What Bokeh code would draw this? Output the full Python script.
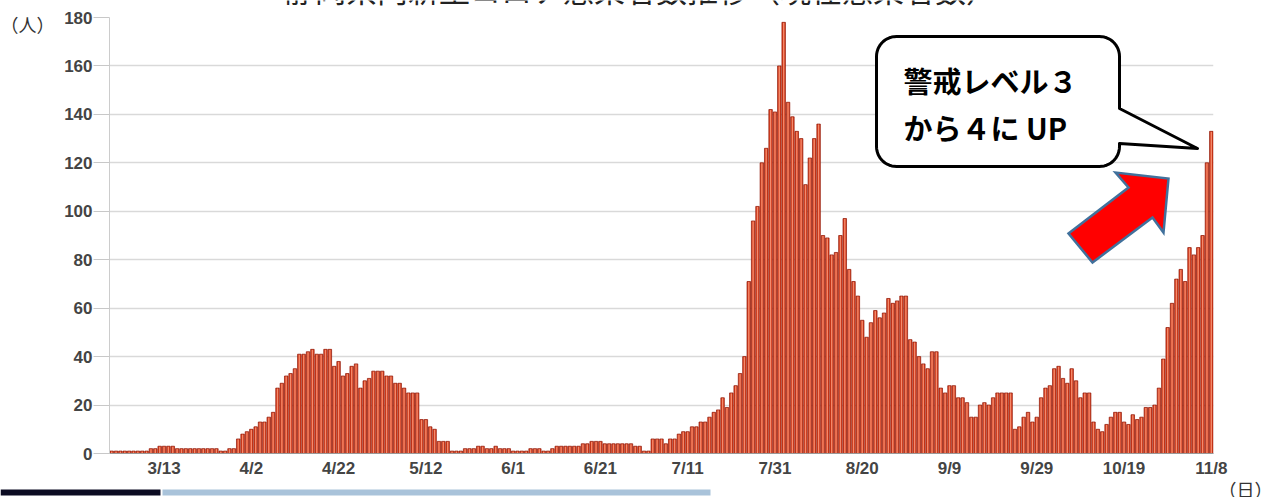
import numpy as np
from datetime import date
from bokeh.plotting import figure
from bokeh.models import Range1d, FixedTicker, ColumnDataSource
from bokeh.embed import file_html
from bokeh.resources import INLINE
from bokeh.core.properties import value

# ---------------- data ----------------
start_date = date(2020, 3, 1)
counts = [
    1, 1, 1, 1, 1, 1, 1, 1, 1, 2, 2, 3, 3, 3, 3, 2, 2, 2, 2, 2, 2, 2, 2, 2, 2, 1, 1, 2, 2,
    6, 8, 9, 10, 11, 13, 13, 15, 17,
    27, 29, 32, 33, 35, 41, 41, 42, 43, 41, 41, 43, 43,
    36, 38, 32, 33, 36, 37, 27, 30, 31, 34, 34, 34, 32, 32, 29, 29, 27, 25, 25, 25,
    14, 14, 11, 10, 5, 5, 5,
    1, 1, 1, 2, 2, 2, 3, 3, 2, 2, 3, 2, 2, 2, 1, 1, 1, 1, 2, 2,
    2, 1, 1, 2, 3, 3, 3, 3, 3, 3, 4, 4, 5, 5, 5, 4, 4, 4, 4, 4,
    4, 4, 3, 3, 1, 1, 6, 6, 6, 4, 6, 6, 8, 9, 9,
    11, 11, 13, 13, 15, 17, 18, 23, 19, 25, 28, 33, 40, 71, 96, 102, 120, 126, 142, 141,
    160, 178, 145, 139, 133, 130, 111, 122, 130, 136, 90, 89, 82, 83, 90, 97, 76, 71, 65, 55,
    48, 54, 59, 56,
    58, 64, 62, 63, 65, 65, 47, 46, 40, 37, 35, 42, 42, 27, 25, 28, 28, 23, 23, 21,
    15, 15, 20, 21, 20, 23, 25, 25, 25, 25, 10, 11, 15, 17, 13, 15, 23, 27, 28, 35,
    36, 31, 29, 35, 30, 23, 25, 25, 13, 10, 9, 12, 15, 17, 17, 13, 12,
    16, 14, 15, 19, 19, 20, 27, 39, 52, 62, 72, 76, 71, 85, 82, 85, 90, 120, 133,
]
tick_labels = ["3/13", "4/2", "4/22", "5/12", "6/1", "6/21", "7/11",
               "7/31", "8/20", "9/9", "9/29", "10/19", "11/8"]
y_ticks = [0, 20, 40, 60, 80, 100, 120, 140, 160, 180]
title_text = "静岡県内新型コロナ感染者数推移（現在感染者数）"
y_unit = "（人）"
x_unit = "（日）"
callout_lines = ["警戒レベル３", "から４に UP"]

days = list(range(len(counts)))
tick_pos = []
for lab in tick_labels:
    m, d = (int(v) for v in lab.split("/"))
    tick_pos.append((date(start_date.year, m, d) - start_date).days)

# ---------------- geometry ----------------
W, H = 1270, 497
FL, FR, FT, FB = 109, 1213, 17, 453
YMAX = 180
XS = (FR - FL) / len(counts)
YS = (FB - FT) / YMAX
ABS = {"position": "absolute", "left": "0px", "top": "0px"}
JP = "Noto Sans CJK JP"


def px2x(px):
    return -0.5 + (px - FL) / XS


def px2y(py):
    return (FB - py) / YS


# ---------- background canvas (texts outside the plot frame) ----------
bg = figure(width=W, height=H, output_backend="svg", toolbar_location=None,
            x_range=Range1d(0, W), y_range=Range1d(H, 0),
            x_axis_type=None, y_axis_type=None,
            min_border=0, min_border_left=0, min_border_right=0,
            min_border_top=0, min_border_bottom=0, styles=ABS)
bg.outline_line_color = None
bg.grid.visible = False
bg.background_fill_color = "white"
bg.border_fill_color = "white"

bg.text(x=[640], y=[10], text=[title_text], text_align="center", text_baseline="bottom",
        text_font=value(JP), text_font_size="31px", text_color="#222222")
bg.text(x=[0, 1218], y=[23, 488], text=[y_unit, x_unit], text_align="left",
        text_baseline="middle", text_font=value(JP), text_font_size="18px",
        text_color="#333333")
bg.quad(left=[0, 162], right=[160, 710], top=[489, 489], bottom=[495, 495],
        fill_color=["#0b0b22", "#a9c3da"], line_color=None)

# ---------------- main chart ----------------
p = figure(width=W, height=H, output_backend="svg", toolbar_location=None,
           x_range=Range1d(-0.5, len(counts) - 0.5), y_range=Range1d(0, YMAX),
           min_border_left=FL, min_border_right=W - FR,
           min_border_top=FT, min_border_bottom=H - FB, styles=ABS)
p.outline_line_color = None
p.background_fill_color = None
p.border_fill_color = None

AX_FONT = "Liberation Sans"
p.yaxis.ticker = FixedTicker(ticks=y_ticks)
p.yaxis.axis_line_color = "#cccccc"
p.yaxis.major_tick_out = 16
p.yaxis.major_tick_in = 0
p.yaxis.major_tick_line_color = "#c8c8c8"
p.yaxis.minor_tick_line_color = None
p.yaxis.major_label_standoff = 1
p.yaxis.major_label_text_font = AX_FONT
p.yaxis.major_label_text_font_size = "17px"
p.yaxis.major_label_text_font_style = "bold"
p.yaxis.major_label_text_color = "#444444"

p.xaxis.ticker = FixedTicker(ticks=tick_pos)
p.xaxis.major_label_overrides = {pos: lab for pos, lab in zip(tick_pos, tick_labels)}
p.xaxis.major_tick_line_color = None
p.xaxis.major_tick_out = 0
p.xaxis.major_tick_in = 0
p.xaxis.minor_tick_line_color = None
p.xaxis.axis_line_color = "#999999"
p.xaxis.major_label_standoff = 5
p.xaxis.major_label_text_font = AX_FONT
p.xaxis.major_label_text_font_size = "17px"
p.xaxis.major_label_text_font_style = "bold"
p.xaxis.major_label_text_color = "#444444"

p.xgrid.visible = False
p.ygrid.grid_line_color = "#d9d9d9"
p.ygrid.grid_line_width = 1.5

# bars
src = ColumnDataSource(dict(day=days, count=counts))
p.vbar(x="day", top="count", bottom=0, width=0.8, source=src,
       fill_color="#d8401f", line_color=None)
p.vbar(x="day", top="count", bottom=0, width=0.3, source=src,
       fill_color="#f48a6c", line_color=None)
p.vbar(x="day", top="count", bottom=0, width=0.8, source=src,
       fill_color=None, line_color="#8e1606", line_width=0.7)

# callout bubble
bx0, by0, bx1, by1, br = 876, 36, 1119, 166, 20
tail = [(bx1, 108), (1197, 148), (bx1, 143)]
pts = []


def arc(cx, cy, a0, a1):
    for a in np.linspace(a0, a1, 14):
        pts.append((cx + br * np.cos(np.radians(a)), cy + br * np.sin(np.radians(a))))


arc(bx0 + br, by0 + br, 180, 270)
arc(bx1 - br, by0 + br, 270, 360)
pts.extend(tail)
arc(bx1 - br, by1 - br, 0, 90)
arc(bx0 + br, by1 - br, 90, 180)
p.patch([px2x(a) for a, b in pts], [px2y(b) for a, b in pts],
        fill_color="white", line_color="black", line_width=3, line_join="round")

p.text(x=[px2x(903), px2x(903)], y=[px2y(79), px2y(126)], text=callout_lines,
       text_font=value(JP), text_font_size="29px", text_font_style="bold",
       text_baseline="middle", text_align="left", text_color="black")

# arrow
arrow_px = [(1168, 178), (1163, 232), (1152, 217), (1092, 262),
            (1068, 233), (1128, 187), (1115, 172)]
p.patch([px2x(a) for a, b in arrow_px], [px2y(b) for a, b in arrow_px],
        fill_color="#ff0000", line_color="#41719c", line_width=2.5, line_join="miter")

open("out.html", "w").write(file_html([bg, p], INLINE))
